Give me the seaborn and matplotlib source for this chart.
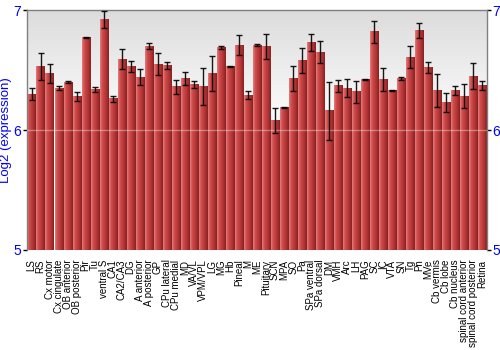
import numpy as np
import pandas as pd
import matplotlib
matplotlib.use("Agg")
import matplotlib.pyplot as plt
import seaborn as sns
from matplotlib.colors import LinearSegmentedColormap

regions = ["LS", "RS", "Cx motor", "Cx cingulate", "OB anterior", "OB posterior", "Pir", "Tu",
           "ventral S", "CA1", "CA2/CA3", "DG", "A anterior", "A posterior", "GP", "CPu lateral",
           "CPu medial", "MD", "VA/VL", "VPM/VPL", "LG", "MG", "Hb", "Pineal", "M", "ME",
           "Pituitary", "SCN", "MPA", "SO", "Pa", "SPa ventral", "SPa dorsal", "DM", "VMH", "Arc",
           "LH", "PAG", "SC", "IC", "VTA", "SN", "Tg", "Pn", "MVe", "Cb vermis", "Cb lobe",
           "Cb nucleus", "spinal cord anterior", "spinal cord posterior", "Retina"]

expression = [6.30, 6.53, 6.47, 6.35, 6.40, 6.28, 6.77, 6.34,
              6.92, 6.26, 6.59, 6.53, 6.44, 6.70, 6.55, 6.54,
              6.36, 6.43, 6.38, 6.36, 6.47, 6.69, 6.53, 6.71, 6.29, 6.71,
              6.70, 6.08, 6.19, 6.43, 6.58, 6.73, 6.65, 6.16, 6.37, 6.35,
              6.32, 6.42, 6.82, 6.42, 6.33, 6.43, 6.61, 6.83, 6.52, 6.33, 6.23,
              6.33, 6.28, 6.45, 6.37]

error = [0.05, 0.11, 0.08, 0.02, 0.005, 0.035, 0.005, 0.02,
         0.072, 0.028, 0.083, 0.043, 0.068, 0.022, 0.092, 0.028,
         0.058, 0.058, 0.033, 0.155, 0.146, 0.014, 0.005, 0.08, 0.035, 0.01,
         0.105, 0.107, 0.003, 0.104, 0.108, 0.07, 0.093, 0.24, 0.05, 0.075,
         0.093, 0.003, 0.093, 0.096, 0.005, 0.0125, 0.094, 0.061, 0.046, 0.136, 0.083,
         0.0375, 0.1, 0.108, 0.036]

ylim = (5, 7)
yticks = [5, 6, 7]

sns.set_theme(style="white")
plt.rcParams["font.family"] = ["Liberation Sans", "DejaVu Sans"]

fig = plt.figure(figsize=(5, 3.5), dpi=100)
ax = fig.add_axes([0.054, 0.286, 0.92, 0.685])

df = pd.DataFrame({"region": regions, "expression": expression})
sns.barplot(data=df, x="region", y="expression", color="#c04040", width=0.9,
            edgecolor="none", ax=ax, zorder=2, errorbar=None)

n = len(regions)
ax.set_xlim(-0.5, n - 0.5)
ax.set_ylim(*ylim)

# background gradient
bg = LinearSegmentedColormap.from_list("bg", ["#ffffff", "#ffffff", "#dcdcdc"])
grad = np.linspace(0, 1, 256).reshape(-1, 1)
ax.imshow(grad, extent=[-0.5, n - 0.5, ylim[0], ylim[1]], origin="lower",
          aspect="auto", cmap=bg, zorder=0)

# bar gradient
barcmap = LinearSegmentedColormap.from_list(
    "bar", ["#e48080", "#cf4c4c", "#c23e3e", "#a83030", "#862222"])
hgrad = np.linspace(0, 1, 64).reshape(1, -1)
for p in ax.patches:
    x0, w = p.get_x(), p.get_width()
    h = p.get_height()
    ax.imshow(hgrad, extent=[x0, x0 + w, ylim[0], h], aspect="auto",
              cmap=barcmap, zorder=2.5, interpolation="bilinear")

ax.set_xlim(-0.5, n - 0.5)
ax.set_ylim(*ylim)

ax.axhline(6, color="white", alpha=0.35, lw=1, zorder=3)

ax.errorbar(np.arange(n), expression, yerr=error, fmt="none", ecolor="black",
            elinewidth=1, capsize=2, capthick=1, zorder=4, alpha=0.9)

for side in ["left", "top", "right"]:
    ax.spines[side].set_color("#808080")
    ax.spines[side].set_linewidth(1)
ax.spines["bottom"].set_visible(False)

ax.set_yticks(yticks)
ax.set_yticklabels([str(t) for t in yticks])
ax.tick_params(axis="y", left=True, right=True, labelleft=True, labelright=True,
               length=3, width=1, color="black", labelcolor="#0000ff", labelsize=10, pad=1)
ax.tick_params(axis="x", bottom=False, labelsize=7, labelcolor="black", pad=1)
for lbl in ax.get_xticklabels():
    lbl.set_rotation(90)
ax.set_xlabel("")
ax.set_ylabel("Log2 (expression)", color="#0000ff", fontsize=9.5, labelpad=1)

fig.savefig("out.png", dpi=100)
